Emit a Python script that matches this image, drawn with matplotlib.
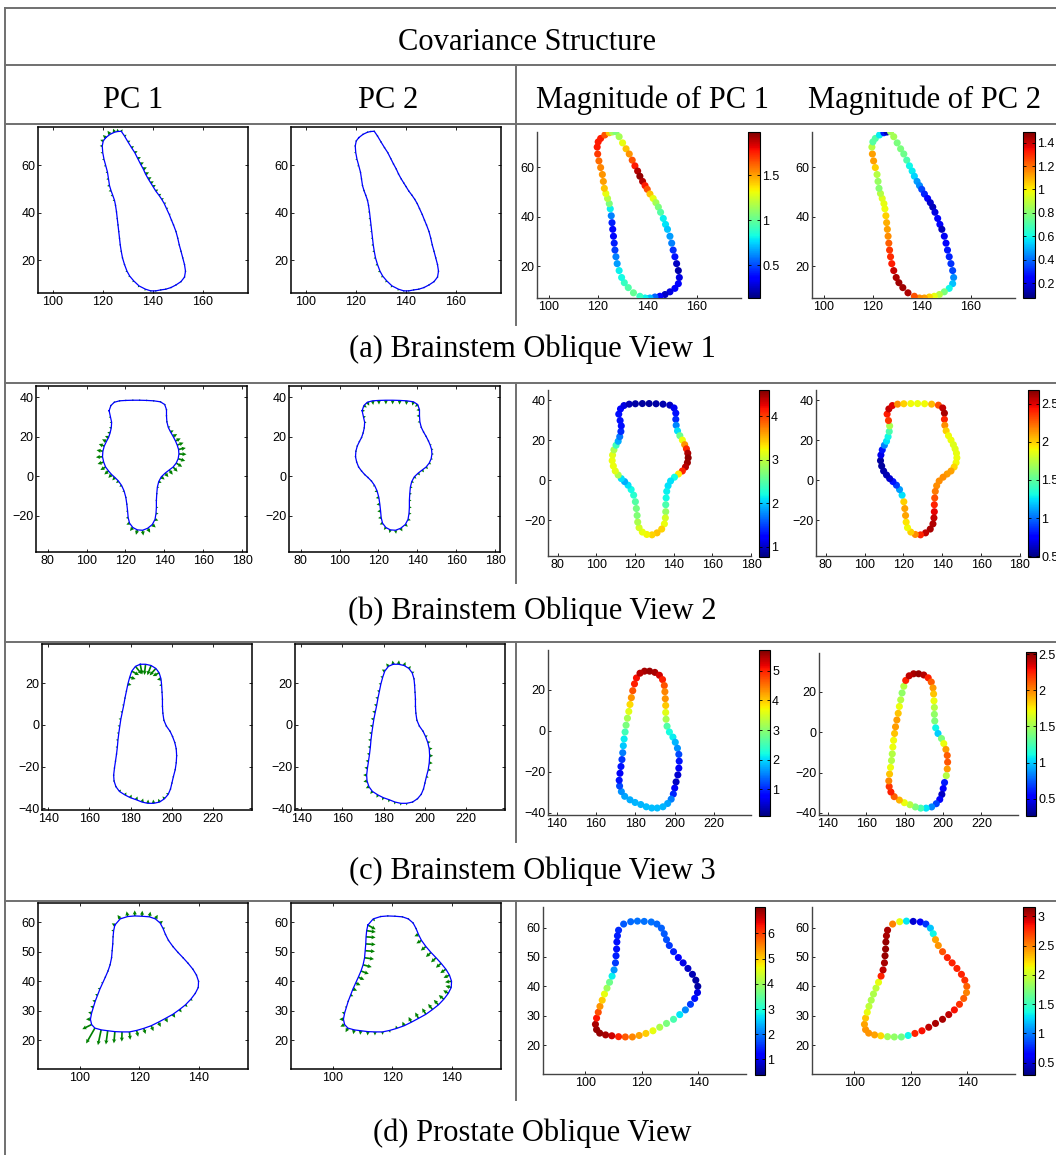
import numpy as np
import matplotlib.pyplot as plt
from matplotlib.lines import Line2D
from matplotlib.ticker import FuncFormatter

plt.rcParams['font.family'] = ['Liberation Sans', 'DejaVu Sans']
plt.rcParams['font.size'] = 9

# ---------------- data ----------------
# each shape: mean contour (clockwise), visible offset of PC1/PC2 along the
# outward normal (negative = inward) and the magnitude shown in colour.

# (a) Brainstem oblique view 1
a_x = [121.1, 122.8, 124.6, 125.9, 127.3, 128.6, 130.0, 131.4, 132.7, 133.9, 135.0, 136.1, 137.0,
       138.1, 139.1, 140.0, 141.1, 142.4, 143.5, 144.5, 145.4, 146.5, 147.4, 148.2, 149.2, 149.9,
       150.5, 151.2, 151.9, 152.6, 153.0, 152.6, 151.2, 149.2, 147.2, 145.1, 143.1, 141.1, 139.1,
       137.0, 134.4, 132.3, 130.7, 129.6, 128.6, 127.8, 127.3, 126.9, 126.6, 126.3, 126.0, 125.7,
       125.4, 125.0, 124.6, 123.9, 123.2, 122.6, 122.2, 121.8, 121.1, 120.4, 119.9, 119.7, 120.1]
a_y = [71.7, 73.1, 74.0, 74.3, 74.4, 72.4, 69.9, 67.5, 65.4, 62.9, 60.6, 58.5, 56.4, 54.3, 52.6,
       51.1, 49.2, 47.4, 45.7, 43.9, 41.8, 39.3, 36.9, 34.9, 32.1, 29.3, 26.5, 23.8, 21.0, 18.2,
       15.4, 12.9, 11.0, 9.6, 8.5, 7.8, 7.5, 7.1, 7.1, 7.8, 9.2, 11.3, 13.3, 15.4, 18.2, 21.0, 23.8,
       26.5, 29.3, 32.1, 34.9, 37.6, 40.4, 43.2, 45.3, 47.4, 49.4, 51.5, 54.3, 57.1, 59.9, 62.6,
       65.4, 68.2, 70.3]
a_off1 = [1.6, 1.8, 1.6, 1.2, 1.0, 1.0, 1.1, 1.2, 1.3, 1.4, 1.5, 1.6, 1.6, 1.5, 1.4, 1.3, 1.2, 1.1,
          1.0, 0.9, 0.8, 0.7, 0.6, 0.5, 0.5, 0.4, 0.3, 0.3, 0.2, 0.2, 0.2, 0.3, 0.3, 0.3, 0.3, 0.4,
          0.5, 0.6, 0.7, 0.8, 0.8, 0.8, 0.7, 0.7, 0.6, 0.5, 0.5, 0.4, 0.4, 0.3, 0.3, 0.4, 0.5, 0.6,
          0.8, 0.9, 1.0, 1.0, 0.9, 0.8, 0.8, 0.8, 0.9, 1.0, 1.3]
a_off2 = [0.4, 0.3, 0.2, 0.1, 0.4, 0.4, 0.4, 0.4, 0.4, 0.4, 0.3, 0.3, 0.3, 0.3, 0.3, 0.2, 0.2, 0.2,
          0.1, 0.1, 0.1, 0.2, 0.2, 0.1, 0.1, 0.2, 0.2, 0.2, 0.2, 0.2, 0.3, 0.3, 0.4, 0.5, 0.5, 0.6,
          0.6, 0.7, 0.7, 0.8, 0.9, 0.9, 0.9, 0.9, 0.9, 0.8, 0.8, 0.8, 0.7, 0.7, 0.7, 0.7, 0.7, 0.6,
          0.6, 0.6, 0.6, 0.5, 0.5, 0.6, 0.7, 0.7, 0.7, 0.6, 0.5]
a_mag1 = [1.76, 1.65, 1.43, 1.15, 1.06, 1.15, 1.3, 1.43, 1.52, 1.65, 1.76, 1.9, 1.95, 1.9, 1.76,
          1.65, 1.43, 1.3, 1.15, 1.06, 0.97, 0.8, 0.78, 0.72, 0.65, 0.6, 0.45, 0.4, 0.25, 0.2, 0.3,
          0.35, 0.35, 0.3, 0.25, 0.35, 0.55, 0.7, 0.8, 0.9, 1.0, 0.95, 0.9, 0.82, 0.8, 0.65, 0.6,
          0.48, 0.42, 0.38, 0.38, 0.42, 0.6, 0.8, 1.06, 1.18, 1.3, 1.43, 1.5, 1.52, 1.55, 1.6, 1.7,
          1.76, 1.76]
a_mag2 = [0.7, 0.58, 0.29, 0.15, 0.85, 0.85, 0.78, 0.78, 0.76, 0.7, 0.6, 0.58, 0.55, 0.47, 0.45,
          0.35, 0.3, 0.25, 0.17, 0.15, 0.2, 0.25, 0.25, 0.15, 0.22, 0.25, 0.28, 0.3, 0.32, 0.35,
          0.45, 0.52, 0.6, 0.78, 0.88, 0.97, 1.05, 1.12, 1.15, 1.24, 1.43, 1.45, 1.45, 1.43, 1.4,
          1.32, 1.3, 1.28, 1.22, 1.15, 1.12, 1.1, 1.05, 0.98, 0.97, 0.95, 0.88, 0.8, 0.83, 0.88,
          1.05, 1.12, 1.12, 0.88, 0.72]

# (b) Brainstem oblique view 2
b_x = [111.6, 112.5, 114.3, 117.0, 120.2, 123.8, 127.3, 130.9, 134.5, 138.0, 140.2, 141.1, 141.1,
       141.3, 142.0, 143.2, 144.5, 145.7, 146.6, 147.3, 147.5, 147.1, 146.1, 144.5, 142.5, 140.4,
       138.4, 137.1, 136.4, 136.1, 135.9, 135.9, 135.7, 135.2, 133.8, 131.4, 128.8, 126.1, 123.8,
       122.1, 121.4, 121.1, 120.7, 120.2, 119.3, 118.0, 116.4, 114.6, 112.9, 111.3, 109.8, 108.8,
       108.2, 108.4, 109.1, 110.2, 111.3, 112.1, 112.7, 112.9, 112.3]
b_y = [33.1, 35.7, 37.4, 38.1, 38.3, 38.4, 38.4, 38.3, 38.1, 37.6, 36.2, 33.6, 30.5, 27.5, 24.7,
       22.3, 20.1, 17.8, 15.7, 13.5, 11.2, 8.8, 6.6, 4.6, 3.1, 1.5, -0.4, -2.8, -5.6, -8.9, -12.3,
       -15.8, -18.9, -21.9, -24.5, -26.4, -27.4, -27.2, -26.0, -23.8, -21.0, -17.7, -14.2, -10.8,
       -7.5, -4.7, -2.5, -0.7, 0.8, 2.6, 4.6, 7.1, 9.8, 12.6, 15.2, 17.5, 19.5, 21.8, 24.4, 27.2,
       29.9]
b_off1 = [0.8, 0.5, -0.6, -0.7, -0.7, -0.7, -0.7, -0.7, -0.7, -0.6, 0.4, 0.5, 0.6, 0.8, 1.2, 1.8,
          2.4, 3.0, 3.5, 3.8, 3.9, 3.8, 3.6, 3.3, 3.0, 2.6, 2.2, 1.6, 1.0, 0.8, 0.8, 1.0, 1.3, 1.8,
          2.3, 2.6, 2.7, 2.6, 2.3, 1.8, 1.2, 0.9, 0.8, 0.8, 1.0, 1.3, 1.6, 2.0, 2.4, 2.8, 3.1, 3.3,
          3.4, 3.3, 3.0, 2.5, 2.0, 1.5, 1.2, 1.0, 0.9]
b_off2 = [-1.5, -1.8, -2.0, -2.1, -2.1, -2.1, -2.1, -2.1, -2.1, -2.0, -1.8, -1.6, -1.5, -1.2, -0.8,
          0.4, 0.6, 0.8, 0.9, 1.0, 1.0, 1.0, 1.2, 1.4, 1.5, 1.5, 1.4, 1.3, 1.2, 1.1, 1.1, 1.2, 1.3,
          1.5, 1.7, 1.8, 1.8, 1.7, 1.6, 1.6, 1.6, 1.7, 1.7, 1.6, 1.4, 1.0, 0.6, 0.4, 0.3, 0.3, 0.3,
          0.3, 0.3, 0.3, 0.3, 0.3, -0.3, -0.5, -0.7, -1.0, -1.3]
b_mag1 = [1.3, 1.25, 1.1, 0.95, 0.9, 0.88, 0.88, 0.9, 0.92, 0.98, 1.15, 1.3, 1.4, 1.75, 2.1, 2.6,
          3.2, 3.65, 4.1, 4.45, 4.55, 4.5, 4.4, 4.1, 3.3, 2.2, 2.1, 2.1, 2.15, 2.2, 2.45, 2.8, 3.1,
          3.2, 3.4, 3.45, 3.4, 3.25, 3.2, 3.1, 2.9, 2.7, 2.65, 2.5, 2.3, 2.2, 2.1, 1.9, 2.1, 2.9,
          3.15, 3.2, 3.2, 3.15, 2.9, 2.4, 1.9, 1.7, 1.4, 1.3, 1.3]
b_mag2 = [2.42, 2.55, 2.5, 2.15, 2.0, 1.9, 1.88, 1.9, 2.05, 2.3, 2.55, 2.6, 2.4, 2.15, 2.0, 1.9,
          1.88, 1.85, 1.85, 1.87, 1.88, 1.9, 1.98, 2.1, 2.12, 2.15, 2.15, 2.15, 2.2, 2.3, 2.4, 2.48,
          2.55, 2.58, 2.6, 2.55, 2.4, 2.15, 2.0, 1.9, 1.95, 2.1, 2.1, 2.0, 1.25, 1.1, 0.9, 0.8,
          0.65, 0.6, 0.58, 0.55, 0.55, 0.7, 0.8, 1.05, 1.25, 1.3, 1.45, 1.7, 2.35]

# (c) Brainstem oblique view 3
c_x = [184.7, 187.3, 190.0, 192.3, 193.9, 194.8, 195.1, 195.3, 195.5, 195.5, 195.7, 196.2, 197.4,
       199.2, 200.4, 201.5, 202.2, 202.4, 202.2, 201.7, 200.8, 200.1, 199.4, 198.3, 196.5, 194.1,
       191.2, 188.4, 185.6, 182.8, 179.9, 177.3, 174.6, 172.9, 172.0, 171.8, 172.2, 172.7, 173.2,
       173.6, 173.9, 174.3, 174.8, 175.3, 176.0, 176.7, 177.3, 178.0, 178.7, 179.6, 180.6, 182.4]
c_y = [29.0, 29.0, 28.4, 27.0, 24.9, 22.0, 19.0, 15.6, 12.3, 8.9, 5.6, 2.2, -0.6, -3.1, -5.6,
       -8.5, -11.5, -14.8, -18.2, -21.5, -24.9, -27.9, -30.8, -33.3, -35.4, -37.0, -37.6, -37.6,
       -37.0, -35.9, -34.9, -33.6, -31.9, -29.6, -26.9, -24.1, -20.7, -17.4, -14.0, -10.7, -7.3,
       -4.0, -0.6, 2.7, 6.1, 9.4, 12.8, 16.1, 19.5, 22.8, 25.7, 28.0]
c_off1 = [-5.0, -5.2, -5.0, -4.5, -3.5, -2.0, -1.2, -0.8, -0.6, -0.5, -0.5, -0.4, 0.3, 0.4, 0.5,
          0.6, 0.6, 0.5, 0.5, 0.4, 0.3, -0.5, -0.8, -1.2, -1.5, -1.7, -1.8, -1.8, -1.8, -1.7, -1.6,
          -1.4, -1.2, -0.8, 0.5, 0.6, 0.6, 0.7, 0.8, 0.9, 1.0, 1.0, 1.1, 1.1, 1.0, 0.9, 0.6, -0.8,
          -1.8, -3.0, -4.0, -4.8]
c_off2 = [1.8, 1.9, 1.8, 1.5, 1.2, 0.8, 0.6, 0.5, 0.5, 0.5, 0.5, 0.5, 0.6, 0.8, 1.2, 1.4, 1.6,
          1.7, 1.7, 1.5, 1.2, 0.6, 0.5, 0.4, 0.6, 0.8, 1.0, 1.1, 1.2, 1.3, 1.4, 1.5, 1.6, 1.7, 1.8,
          1.7, 1.5, 1.4, 1.3, 1.3, 1.4, 1.4, 1.5, 1.5, 1.5, 1.4, 1.3, 1.2, 1.1, 1.2, 1.6, 1.8]
c_mag1 = [5.5, 5.55, 5.5, 5.3, 5.0, 4.7, 4.4, 4.3, 4.0, 3.6, 3.2, 2.6, 2.2, 2.1, 1.8, 1.6, 1.2,
          0.9, 0.7, 0.5, 0.45, 0.7, 1.0, 1.5, 1.7, 1.8, 1.85, 1.85, 1.85, 1.8, 1.8, 1.75, 1.7, 1.6,
          1.2, 0.9, 0.7, 0.9, 1.1, 1.5, 1.9, 2.1, 2.5, 2.9, 3.2, 3.6, 3.9, 4.3, 4.7, 5.0, 5.1, 5.4]
c_mag2 = [2.45, 2.48, 2.42, 2.25, 2.1, 1.95, 1.85, 1.7, 1.55, 1.45, 1.4, 1.1, 1.0, 1.4, 1.7, 1.95,
          2.1, 2.12, 1.95, 1.55, 0.6, 0.55, 0.4, 0.55, 0.7, 0.85, 1.05, 1.25, 1.4, 1.55, 1.7, 1.9,
          2.1, 2.25, 2.2, 2.0, 1.85, 1.7, 1.55, 1.55, 1.7, 1.72, 1.85, 1.95, 1.95, 1.85, 1.7, 1.55,
          1.45, 1.55, 2.25, 2.4]

# (d) Prostate oblique view
d_x = [111.8, 113.6, 116.1, 118.5, 120.9, 123.4, 125.4, 127.0, 128.0, 128.8, 129.8, 131.3, 133.0,
       134.7, 136.4, 138.0, 139.2, 139.9, 139.8, 138.8, 137.3, 135.5, 133.5, 131.3, 128.8, 126.4,
       124.0, 121.5, 119.1, 116.7, 114.2, 111.8, 109.4, 107.2, 105.1, 104.0, 103.6, 104.0, 104.6,
       105.2, 106.0, 106.8, 107.7, 108.6, 109.5, 110.2, 110.7, 110.9, 111.1, 111.2, 111.4]
d_y = [59.1, 61.2, 62.0, 62.2, 62.1, 61.9, 61.2, 59.8, 57.9, 55.9, 53.9, 51.8, 49.8, 48.0, 46.1,
       44.1, 42.1, 40.0, 37.9, 35.9, 33.9, 32.0, 30.4, 28.8, 27.4, 26.1, 24.9, 24.0, 23.3, 22.8,
       22.8, 22.9, 23.2, 23.5, 24.1, 25.3, 27.1, 29.2, 31.2, 33.2, 35.3, 37.4, 39.4, 41.4, 43.5,
       45.6, 48.0, 50.4, 52.7, 55.1, 57.2]
d_off1 = [1.2, 1.6, 1.8, 1.9, 1.9, 1.8, 1.6, 1.2, 0.8, 0.5, 0.3, 0.3, 0.3, 0.3, 0.3, 0.3, 0.3, 0.4,
          0.5, 0.5, 0.8, 1.0, 1.2, 1.4, 1.6, 1.8, 2.0, 2.0, 2.2, 2.7, 3.3, 4.0, 4.7, 5.3, 6.0, 3.5,
          1.5, 1.2, 1.1, 1.0, 0.9, 0.8, 0.6, 0.5, 0.3, 0.3, 0.3, 0.3, 0.3, 0.4, 0.8]
d_off2 = [-3.0, -1.0, -0.5, -0.4, -0.3, -0.3, -0.3, -0.4, -0.5, -1.5, -2.0, -2.2, -2.3, -2.3, -2.3,
          -2.3, -2.2, -2.2, -2.0, -2.0, -2.2, -2.3, -2.4, -2.4, -2.3, -2.0, -1.5, -1.0, 0.8, 1.0,
          1.2, 1.3, 1.4, 1.5, 1.6, 1.6, 1.4, 1.0, 0.6, -0.5, -1.0, -1.5, -1.8, -2.2, -2.8, -3.0,
          -3.2, -3.3, -3.3, -3.2, -3.1]
d_mag1 = [1.5, 1.8, 1.9, 1.95, 1.95, 1.95, 1.9, 1.85, 1.8, 1.75, 1.6, 1.4, 1.2, 1.0, 0.8, 0.7, 0.6,
          0.6, 1.0, 1.3, 1.6, 2.1, 2.7, 3.3, 3.7, 4.1, 4.6, 5.0, 5.3, 5.5, 5.8, 6.2, 6.6, 6.8, 6.9,
          6.9, 6.8, 6.3, 5.9, 5.4, 5.0, 4.6, 4.0, 3.6, 2.8, 2.2, 1.6, 1.4, 1.3, 1.3, 1.4]
d_mag2 = [3.05, 2.5, 2.1, 1.3, 0.5, 0.6, 0.8, 1.2, 1.35, 2.4, 2.45, 2.65, 2.8, 2.8, 2.8, 2.8, 2.75,
          2.6, 2.5, 2.6, 2.75, 2.85, 3.0, 3.05, 3.05, 3.0, 2.85, 2.8, 1.35, 1.7, 1.8, 1.85, 2.25,
          2.4, 2.45, 2.45, 2.4, 2.3, 2.1, 1.95, 1.9, 1.9, 1.95, 2.1, 2.8, 3.0, 3.05, 3.1, 3.1, 3.1,
          3.05]

# axis ranges, ticks and colour limits
a_pc_xlim, a_pc_ylim, a_mag_xlim, a_mag_ylim = (94, 178), (6.2, 76.2), (95.3, 178), (7.1, 74.3)
a_xticks, a_yticks = [100, 120, 140, 160], [20, 40, 60]
a_clim1, a_cticks1 = (0.135, 1.98), [0.5, 1, 1.5]
a_clim2, a_cticks2 = (0.075, 1.49), [0.2, 0.4, 0.6, 0.8, 1, 1.2, 1.4]

b_pc_xlim, b_pc_ylim, b_mag_xlim, b_mag_ylim = (74, 182.5), (-38.4, 45.6), (75, 180), (-38, 45.2)
b_xticks, b_yticks = [80, 100, 120, 140, 160, 180], [-20, 0, 20, 40]
b_clim1, b_cticks1 = (0.77, 4.6), [1, 2, 3, 4]
b_clim2, b_cticks2 = (0.49, 2.68), [0.5, 1, 1.5, 2, 2.5]

c_pc_xlim, c_pc_ylim, c_mag_xlim, c_mag_ylim = (137, 239), (-40.8, 38.7), (135.5, 239), (-41, 39.3)
c_xticks, c_yticks = [140, 160, 180, 200, 220], [-40, -20, 0, 20]
c_clim1, c_cticks1 = (0.1, 5.7), [1, 2, 3, 4, 5]
c_clim2, c_cticks2 = (0.26, 2.53), [0.5, 1, 1.5, 2, 2.5]

d_pc_xlim, d_pc_ylim, d_mag_xlim, d_mag_ylim = (86, 156.5), (10.2, 66.6), (85, 157), (10.2, 67)
d_xticks, d_yticks = [100, 120, 140], [20, 30, 40, 50, 60]
d_clim1, d_cticks1 = (0.38, 7.05), [1, 2, 3, 4, 5, 6]
d_clim2, d_cticks2 = (0.29, 3.16), [0.5, 1, 1.5, 2, 2.5, 3]

captions = ['(a) Brainstem Oblique View 1', '(b) Brainstem Oblique View 2',
            '(c) Brainstem Oblique View 3', '(d) Prostate Oblique View']
headers = ['PC 1', 'PC 2', 'Magnitude of PC 1', 'Magnitude of PC 2']

# ---------------- layout (pixels: left, top, right, bottom) ----------------
W, H = 1056, 1155
fig = plt.figure(figsize=(W / 100, H / 100), dpi=100)


def box(l, t, r, b):
    return [l / W, 1 - b / H, (r - l) / W, (b - t) / H]


rows = [
    dict(x=a_x, y=a_y, off=(a_off1, a_off2), mag=(a_mag1, a_mag2), clim=(a_clim1, a_clim2),
         cticks=(a_cticks1, a_cticks2), pxl=a_pc_xlim, pyl=a_pc_ylim, mxl=a_mag_xlim,
         myl=a_mag_ylim, xt=a_xticks, yt=a_yticks, cap_y=349,
         boxes=[(38, 127, 248, 293), (291, 127, 501, 293), (537, 132, 741, 298),
                (748, 132, 760, 298), (812, 132, 1015, 298), (1023, 132, 1035, 298)]),
    dict(x=b_x, y=b_y, off=(b_off1, b_off2), mag=(b_mag1, b_mag2), clim=(b_clim1, b_clim2),
         cticks=(b_cticks1, b_cticks2), pxl=b_pc_xlim, pyl=b_pc_ylim, mxl=b_mag_xlim,
         myl=b_mag_ylim, xt=b_xticks, yt=b_yticks, cap_y=611,
         boxes=[(36, 386, 247, 552), (289, 386, 500, 552), (548, 390, 751, 556),
                (759, 390, 769, 557), (816, 390, 1020, 556), (1028, 390, 1039, 557)]),
    dict(x=c_x, y=c_y, off=(c_off1, c_off2), mag=(c_mag1, c_mag2), clim=(c_clim1, c_clim2),
         cticks=(c_cticks1, c_cticks2), pxl=c_pc_xlim, pyl=c_pc_ylim, mxl=c_mag_xlim,
         myl=c_mag_ylim, xt=c_xticks, yt=c_yticks, cap_y=871,
         boxes=[(42, 644, 252, 810), (295, 644, 505, 810), (548, 650, 751, 815),
                (759, 650, 770, 816), (819, 653, 1018, 815), (1026, 652, 1036, 816)]),
    dict(x=d_x, y=d_y, off=(d_off1, d_off2), mag=(d_mag1, d_mag2), clim=(d_clim1, d_clim2),
         cticks=(d_cticks1, d_cticks2), pxl=d_pc_xlim, pyl=d_pc_ylim, mxl=d_mag_xlim,
         myl=d_mag_ylim, xt=d_xticks, yt=d_yticks, cap_y=1133,
         boxes=[(38, 903, 248, 1069), (291, 903, 501, 1069), (543, 907, 746, 1074),
                (755, 907, 765, 1075), (812, 907, 1015, 1074), (1023, 907, 1035, 1075)]),
]

fmt = FuncFormatter(lambda v, p: '%g' % v)


def pc_panel(rect, x, y, off, xlim, ylim, xt, yt):
    ax = fig.add_axes(box(*rect))
    x, y, off = np.array(x), np.array(y), np.array(off)
    tx = np.roll(x, -1) - np.roll(x, 1)
    ty = np.roll(y, -1) - np.roll(y, 1)
    ln = np.hypot(tx, ty)
    nx, ny = -ty / ln, tx / ln  # outward normal for clockwise contour
    ax.quiver(x, y, off * nx, off * ny, angles='xy', scale_units='xy', scale=1,
              color='#008000', width=0.008, headwidth=2.5, headlength=2.5,
              headaxislength=2.2, zorder=2)
    ax.plot(np.append(x, x[0]), np.append(y, y[0]), color='#0000ff', lw=0.9, zorder=3)
    ax.set_xlim(xlim)
    ax.set_ylim(ylim)
    ax.set_xticks(xt)
    ax.set_yticks(yt)
    ax.tick_params(direction='in', length=2.5, width=0.6, top=True, right=True, pad=2)
    for s in ax.spines.values():
        s.set_linewidth(1.1)


def mag_panel(rect, crect, x, y, m, clim, cticks, xlim, ylim, xt, yt):
    ax = fig.add_axes(box(*rect))
    sc = ax.scatter(x, y, c=m, cmap='jet', vmin=clim[0], vmax=clim[1], s=26,
                    edgecolors='none', zorder=3)
    ax.set_xlim(xlim)
    ax.set_ylim(ylim)
    ax.set_xticks(xt)
    ax.set_yticks(yt)
    ax.spines[['top', 'right']].set_visible(False)
    for s in ['left', 'bottom']:
        ax.spines[s].set_color('#444444')
        ax.spines[s].set_linewidth(1.0)
    ax.tick_params(direction='in', length=2.5, width=0.6, pad=2)
    cax = fig.add_axes(box(*crect))
    cb = fig.colorbar(sc, cax=cax, ticks=cticks, format=fmt)
    cb.outline.set_linewidth(0.8)
    cax.tick_params(direction='in', length=2.5, width=0.6, left=True, right=True, pad=1.5)


for r in rows:
    bx = r['boxes']
    pc_panel(bx[0], r['x'], r['y'], r['off'][0], r['pxl'], r['pyl'], r['xt'], r['yt'])
    pc_panel(bx[1], r['x'], r['y'], r['off'][1], r['pxl'], r['pyl'], r['xt'], r['yt'])
    mag_panel(bx[2], bx[3], r['x'], r['y'], r['mag'][0], r['clim'][0], r['cticks'][0],
              r['mxl'], r['myl'], r['xt'], r['yt'])
    mag_panel(bx[4], bx[5], r['x'], r['y'], r['mag'][1], r['clim'][1], r['cticks'][1],
              r['mxl'], r['myl'], r['xt'], r['yt'])

# ---------------- table frame and texts ----------------
line_c = '#707070'


def hline(y, x0=5, x1=W):
    fig.add_artist(Line2D([x0 / W, x1 / W], [1 - y / H, 1 - y / H],
                          transform=fig.transFigure, color=line_c, lw=1.4))


def vline(x, y0, y1):
    fig.add_artist(Line2D([x / W, x / W], [1 - y0 / H, 1 - y1 / H],
                          transform=fig.transFigure, color=line_c, lw=1.4))


for yy in [8, 65, 124, 383, 642, 901]:
    hline(yy)
vline(5, 8, H)
for y0, y1 in [(65, 124), (124, 325), (383, 583), (642, 842), (901, 1100)]:
    vline(516, y0, y1)

serif = dict(family=['Liberation Serif', 'DejaVu Serif'], fontsize=22, ha='center', va='center')
fig.text(527 / W, 1 - 43 / H, 'Covariance Structure', **serif)
for cx, t in zip([133, 388, 652, 925], headers):
    fig.text(cx / W, 1 - 100 / H, t, **serif)
for r, cap in zip(rows, captions):
    fig.text(532 / W, 1 - r['cap_y'] / H, cap, **serif)

fig.savefig('out.png', dpi=100)
